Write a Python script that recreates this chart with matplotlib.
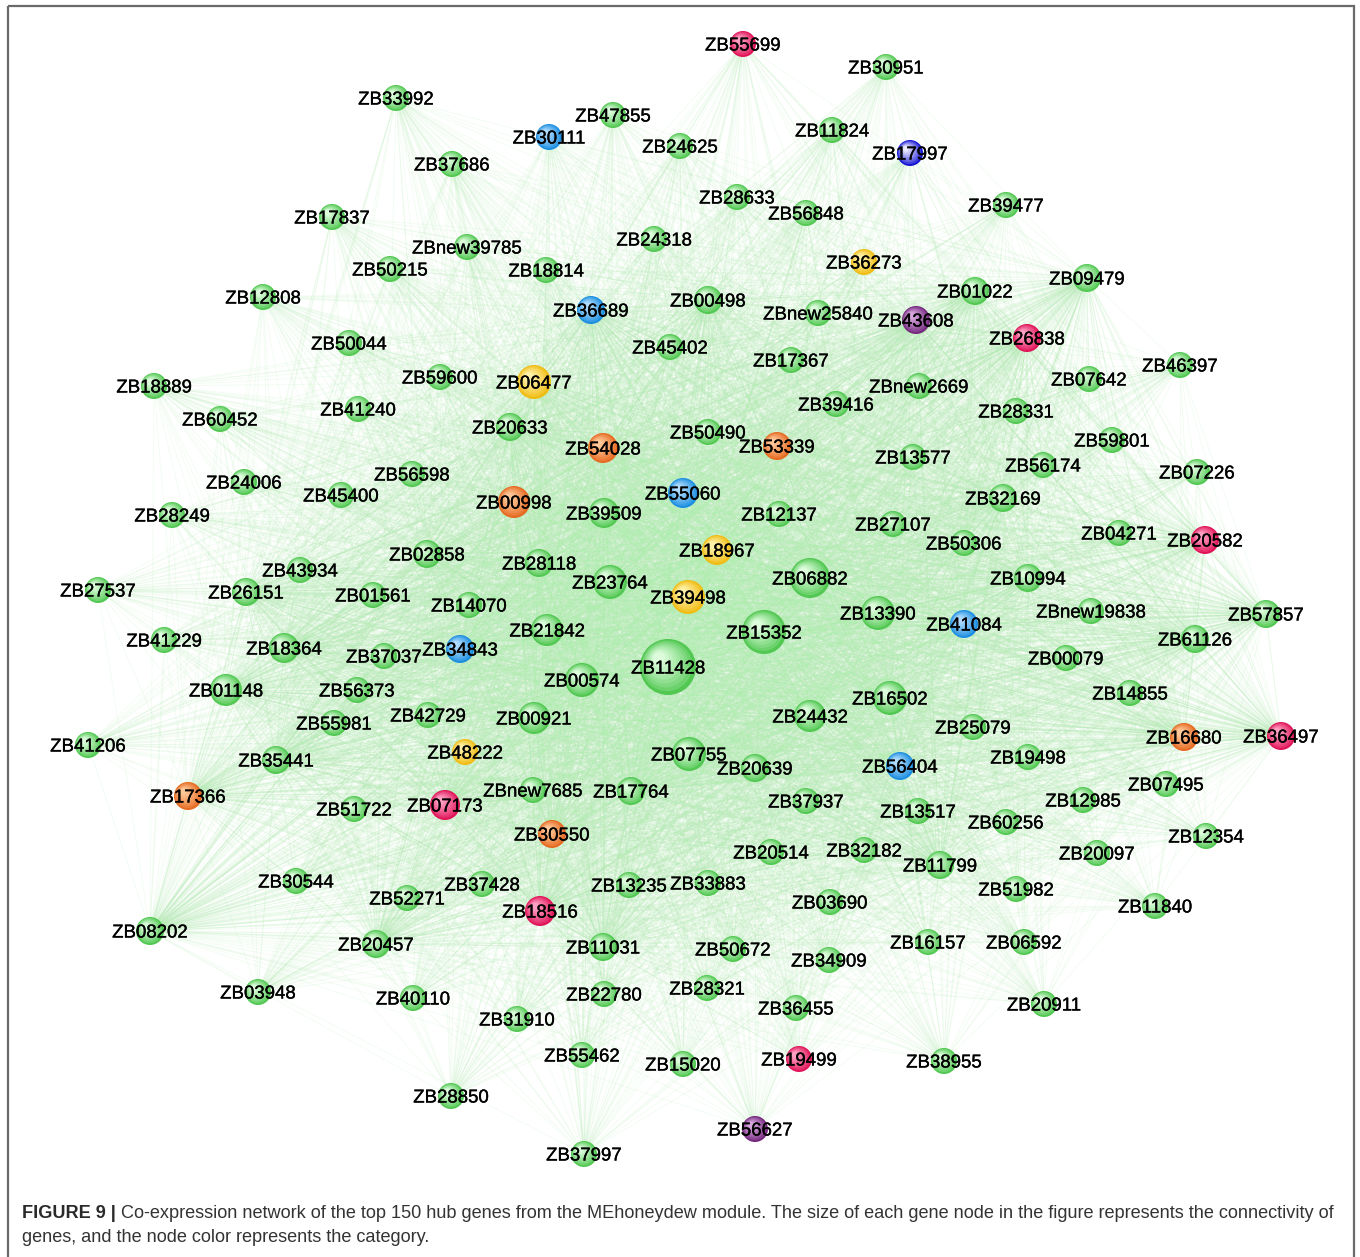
import matplotlib
matplotlib.use("Agg")
import matplotlib.pyplot as plt
import matplotlib.patheffects as pe
import numpy as np
from matplotlib.collections import LineCollection
from matplotlib.patches import Circle, Rectangle
from matplotlib.colors import to_rgb

# gene nodes: name, layout position (px), node radius (connectivity)
names = [
    "ZB55699", "ZB30951", "ZB33992", "ZB47855", "ZB30111", "ZB11824", "ZB17997", "ZB24625",
    "ZB37686", "ZB28633", "ZB56848", "ZB39477", "ZB17837", "ZBnew39785", "ZB24318", "ZB18814",
    "ZB36273", "ZB50215", "ZB12808", "ZB01022", "ZB09479", "ZB36689", "ZB00498", "ZBnew25840",
    "ZB43608", "ZB26838", "ZB50044", "ZB45402", "ZB17367", "ZB46397", "ZB18889", "ZB59600",
    "ZB06477", "ZBnew2669", "ZB07642", "ZB41240", "ZB60452", "ZB39416", "ZB28331", "ZB20633",
    "ZB54028", "ZB50490", "ZB53339", "ZB13577", "ZB59801", "ZB56598", "ZB56174", "ZB07226",
    "ZB24006", "ZB45400", "ZB00998", "ZB55060", "ZB39509", "ZB12137", "ZB32169", "ZB27107",
    "ZB28249", "ZB04271", "ZB20582", "ZB50306", "ZB18967", "ZB02858", "ZB28118", "ZB23764",
    "ZB06882", "ZB43934", "ZB10994", "ZB27537", "ZB26151", "ZB01561", "ZB39498", "ZB14070",
    "ZB13390", "ZBnew19838", "ZB57857", "ZB15352", "ZB41084", "ZB41229", "ZB18364", "ZB21842",
    "ZB37037", "ZB34843", "ZB61126", "ZB11428", "ZB00574", "ZB00079", "ZB01148", "ZB56373",
    "ZB16502", "ZB14855", "ZB42729", "ZB00921", "ZB24432", "ZB55981", "ZB25079", "ZB41206",
    "ZB48222", "ZB07755", "ZB20639", "ZB35441", "ZB56404", "ZB19498", "ZB16680", "ZB36497",
    "ZB17366", "ZBnew7685", "ZB17764", "ZB37937", "ZB07173", "ZB51722", "ZB13517", "ZB12985",
    "ZB07495", "ZB60256", "ZB30550", "ZB20514", "ZB32182", "ZB12354", "ZB11799", "ZB20097",
    "ZB30544", "ZB37428", "ZB52271", "ZB13235", "ZB33883", "ZB51982", "ZB18516", "ZB03690",
    "ZB11840", "ZB08202", "ZB20457", "ZB11031", "ZB50672", "ZB16157", "ZB06592", "ZB34909",
    "ZB03948", "ZB40110", "ZB22780", "ZB28321", "ZB36455", "ZB20911", "ZB31910", "ZB55462",
    "ZB15020", "ZB19499", "ZB38955", "ZB28850", "ZB56627", "ZB37997",
]
xs = [
    743, 886, 396, 613, 549, 832, 910, 680, 452, 737, 806, 1006, 332, 467, 654, 546,
    864, 390, 263, 975, 1087, 591, 708, 818, 916, 1027, 349, 670, 791, 1180, 154, 440,
    534, 919, 1089, 358, 220, 836, 1016, 510, 603, 708, 777, 913, 1112, 412, 1043, 1197,
    244, 341, 514, 683, 604, 779, 1003, 893, 172, 1119, 1205, 964, 717, 427, 539, 610,
    810, 300, 1028, 98, 246, 373, 688, 469, 878, 1091, 1266, 764, 964, 164, 284, 547,
    384, 460, 1195, 668, 582, 1066, 226, 357, 890, 1130, 428, 534, 810, 334, 973, 88,
    465, 689, 755, 276, 900, 1028, 1184, 1281, 188, 533, 631, 806, 445, 354, 918, 1083,
    1166, 1006, 552, 771, 864, 1206, 940, 1097, 296, 482, 407, 629, 708, 1016, 540, 830,
    1155, 150, 376, 603, 733, 928, 1024, 829, 258, 413, 604, 707, 796, 1044, 517, 582,
    683, 799, 944, 451, 755, 584,
]
ys = [
    44, 67, 98, 115, 137, 130, 153, 146, 164, 197, 213, 205, 217, 247, 239, 270,
    262, 269, 297, 291, 278, 310, 300, 313, 320, 338, 343, 347, 360, 365, 386, 377,
    382, 386, 379, 409, 419, 404, 411, 427, 448, 432, 446, 457, 440, 474, 465, 472,
    482, 495, 502, 493, 513, 514, 498, 524, 515, 533, 540, 543, 550, 554, 563, 582,
    578, 570, 578, 590, 592, 595, 597, 605, 613, 611, 614, 632, 624, 640, 648, 630,
    656, 649, 639, 667, 680, 658, 690, 690, 698, 693, 715, 718, 716, 723, 727, 745,
    752, 754, 768, 760, 766, 757, 737, 736, 796, 790, 791, 801, 805, 809, 811, 800,
    784, 822, 834, 852, 850, 836, 865, 853, 881, 884, 898, 885, 883, 889, 911, 902,
    906, 931, 944, 947, 949, 942, 942, 960, 992, 998, 994, 988, 1008, 1004, 1019, 1055,
    1064, 1059, 1061, 1096, 1129, 1154,
]
sizes = [
    13, 13, 13, 13, 13, 13, 13, 13, 13, 13, 13, 13, 13, 13, 13, 13,
    13, 13, 13, 14, 14, 14, 14, 13, 14, 14, 13, 13, 13, 13, 13, 13,
    17, 13, 13, 13, 13, 13, 13, 14, 15, 13, 14, 13, 13, 13, 13, 13,
    13, 13, 16, 15, 15, 13, 14, 13, 13, 13, 14, 13, 15, 14, 14, 17,
    20, 13, 14, 13, 14, 13, 17, 13, 17, 13, 14, 22, 14, 13, 15, 16,
    13, 14, 14, 28, 17, 13, 16, 13, 17, 13, 13, 16, 16, 13, 13, 13,
    13, 17, 14, 14, 14, 13, 14, 14, 14, 13, 14, 13, 15, 13, 13, 13,
    13, 13, 14, 13, 13, 13, 14, 13, 13, 13, 13, 13, 13, 13, 15, 13,
    13, 14, 14, 14, 13, 13, 13, 13, 13, 13, 13, 13, 13, 13, 13, 13,
    13, 13, 13, 13, 13, 13,
]

# categories (everything else is green)
red_genes = ["ZB55699", "ZB26838", "ZB20582", "ZB36497", "ZB07173", "ZB18516", "ZB19499"]
orange_genes = ["ZB54028", "ZB53339", "ZB00998", "ZB16680", "ZB17366", "ZB30550"]
yellow_genes = ["ZB36273", "ZB06477", "ZB18967", "ZB39498", "ZB48222"]
blue_genes = ["ZB30111", "ZB36689", "ZB55060", "ZB41084", "ZB34843", "ZB56404"]
navy_genes = ["ZB17997"]
purple_genes = ["ZB43608", "ZB56627"]

palette = {
    "G": ("#52c852", "#dcfcdc"),
    "R": ("#e01458", "#ffa0c4"),
    "O": ("#e66a22", "#ffc898"),
    "Y": ("#f0bc14", "#fff2a8"),
    "B": ("#1c8ee0", "#b0dcff"),
    "D": ("#1414d4", "#e8e8ff"),
    "P": ("#74287e", "#d6a8dc"),
}

groups = []
for nm in names:
    if nm in red_genes: groups.append("R")
    elif nm in orange_genes: groups.append("O")
    elif nm in yellow_genes: groups.append("Y")
    elif nm in blue_genes: groups.append("B")
    elif nm in navy_genes: groups.append("D")
    elif nm in purple_genes: groups.append("P")
    else: groups.append("G")

hubs = [i for i, s in enumerate(sizes) if s >= 14]

fig = plt.figure(figsize=(13.6, 12.57), dpi=100)
ax = fig.add_axes([0, 0, 1, 1])
ax.set_xlim(0, 1360)
ax.set_ylim(1257, 0)
ax.axis("off")

# co-expression edges: every gene to every hub gene
segs = []
for h in hubs:
    for j in range(len(names)):
        if j != h:
            segs.append([(xs[h], ys[h]), (xs[j], ys[j])])
edges = LineCollection(segs, colors="#b0ecb0", linewidths=0.7, alpha=0.15, zorder=1)
ax.add_collection(edges)

# shaded spheres
n_layers = 9
for i in range(len(names)):
    dark, light = palette[groups[i]]
    c0 = np.array(to_rgb(dark))
    c1 = np.array(to_rgb(light))
    r = sizes[i]
    for k in range(n_layers):
        t = k / (n_layers - 1)
        rr = r * (1 - 0.78 * t)
        off = -0.32 * r * t
        col = c0 + (c1 - c0) * t ** 0.8
        ax.add_patch(Circle((xs[i] + off, ys[i] + off), rr, facecolor=col,
                            edgecolor="none", zorder=2 + 0.01 * k))
    ax.text(xs[i], ys[i], names[i], ha="center", va="center_baseline", fontsize=13.4,
            family="Liberation Sans", color="black", zorder=5,
            path_effects=[pe.withStroke(linewidth=0.25, foreground="black")])

# frame around figure panel
ax.add_patch(Rectangle((8, 6), 1346, 1300, facecolor="none", edgecolor="#6a6a6a",
                       linewidth=1.6, zorder=6))

# caption
cap_bold = "FIGURE 9 |"
cap_line1 = (" Co-expression network of the top 150 hub genes from the MEhoneydew module. "
             "The size of each gene node in the figure represents the connectivity of")
cap_line2 = "genes, and the node color represents the category."
fs = 13.1
tb = ax.text(22, 1213, cap_bold, ha="left", va="center", fontsize=fs, fontweight="bold",
             family="Liberation Sans", color="#2a2a2a")
fig.canvas.draw()
bb = tb.get_window_extent()
ax.text(bb.x1, fig.bbox.height - 1213, cap_line1, ha="left", va="center", fontsize=fs,
        family="Liberation Sans", color="#333333", transform=None)
ax.text(22, 1238, cap_line2, ha="left", va="center", fontsize=fs,
        family="Liberation Sans", color="#333333")

fig.savefig("out.png", dpi=100)
